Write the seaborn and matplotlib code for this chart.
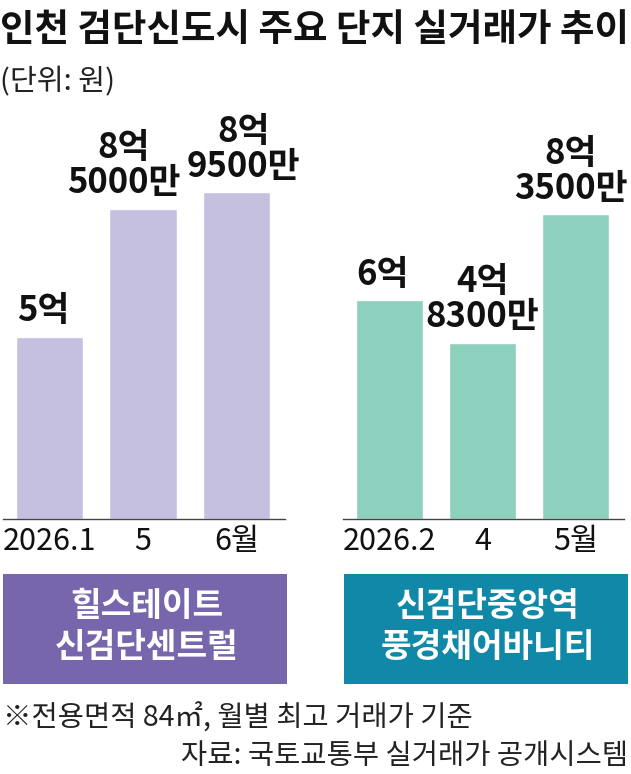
import matplotlib
matplotlib.use("Agg")
import matplotlib.pyplot as plt
from matplotlib.patches import Rectangle
import seaborn as sns
import pandas as pd

# values in 억 원
hill_months = ["2026.1", "5", "6월"]
hill_prices = [5.0, 8.5, 8.95]
pung_months = ["2026.2", "4", "5월"]
pung_prices = [6.0, 4.83, 8.35]

hill_name = "힐스테이트\n신검단센트럴"
pung_name = "신검단중앙역\n풍경채어바니티"

TITLE = "인천 검단신도시 주요 단지 실거래가 추이"
UNIT = "(단위: 원)"
NOTE = "※전용면적 84㎡, 월별 최고 거래가 기준"
SOURCE = "자료: 국토교통부 실거래가 공개시스템"

HILL_BAR = "#c5bfe0"
PUNG_BAR = "#8dd0be"
HILL_BOX = "#7866ad"
PUNG_BOX = "#0f89a7"

sns.set_theme(style="white")
plt.rcParams["font.family"] = ["Noto Sans CJK KR", "DejaVu Sans"]

W, H = 631, 774
fig = plt.figure(figsize=(W / 100, H / 100), dpi=100)


def px(x, y):
    return x / W, 1 - y / H


def price_label(v):
    eok = int(v)
    man = int(round((v - eok) * 10000))
    return f"{eok}억" if man == 0 else f"{eok}억\n{man}만"


def draw_panel(left_px, width_px, months, prices, bar_color, label_dx):
    base = 519
    top = 110
    ax = fig.add_axes([left_px / W, 1 - base / H, width_px / W, (base - top) / H])
    df = pd.DataFrame({"month": months, "price": prices})
    sns.barplot(data=df, x="month", y="price", color=bar_color, width=0.72,
                saturation=1, ax=ax)
    ax.set_ylim(0, (base - top) / 36.5)
    ax.set_xlim(-0.5, 2.52)
    ax.set_xlabel("")
    ax.set_ylabel("")
    ax.set_yticks([])
    for s in ["left", "right", "top"]:
        ax.spines[s].set_visible(False)
    ax.spines["bottom"].set_color("#444444")
    ax.spines["bottom"].set_linewidth(1.0)
    ax.tick_params(axis="x", length=0, pad=5, labelsize=22, labelcolor="#111111")
    # labels nudged sideways so neighbouring two-line labels don't collide
    for i, (v, dx) in enumerate(zip(prices, label_dx)):
        ax.annotate(price_label(v), (i, v), xytext=(dx * 0.72, 6), textcoords="offset points",
                    ha="center", va="bottom", fontsize=25, fontweight="bold",
                    color="#111111", linespacing=1.0)
    return ax


draw_panel(3, 282, hill_months, hill_prices, HILL_BAR, [-6, -19, 7])
draw_panel(343, 281, pung_months, pung_prices, PUNG_BAR, [-7, 0, -5])

# complex name boxes
for x0, x1, name, color in [(3, 287, hill_name, HILL_BOX), (344, 628, pung_name, PUNG_BOX)]:
    bx, by = px(x0, 684)
    fig.add_artist(Rectangle((bx, by), (x1 - x0) / W, 110 / H, transform=fig.transFigure,
                             facecolor=color, edgecolor="none"))
    tx, ty = px((x0 + x1) / 2 + 2, 627)
    fig.text(tx, ty, name, ha="center", va="center", fontsize=24, fontweight="bold",
             color="white", linespacing=1.3)

fig.text(*px(0, 41), TITLE, ha="left", va="baseline", fontsize=27, fontweight="bold",
         color="#111111")
fig.text(*px(0, 90), UNIT, ha="left", va="baseline", fontsize=21, fontweight="light",
         color="#222222")
fig.text(*px(3, 727), NOTE, ha="left", va="baseline", fontsize=20.5, fontweight="light",
         color="#222222")
fig.text(*px(628, 764), SOURCE, ha="right", va="baseline", fontsize=20.5, fontweight="light",
         color="#222222")

fig.savefig("out.png", dpi=100)
